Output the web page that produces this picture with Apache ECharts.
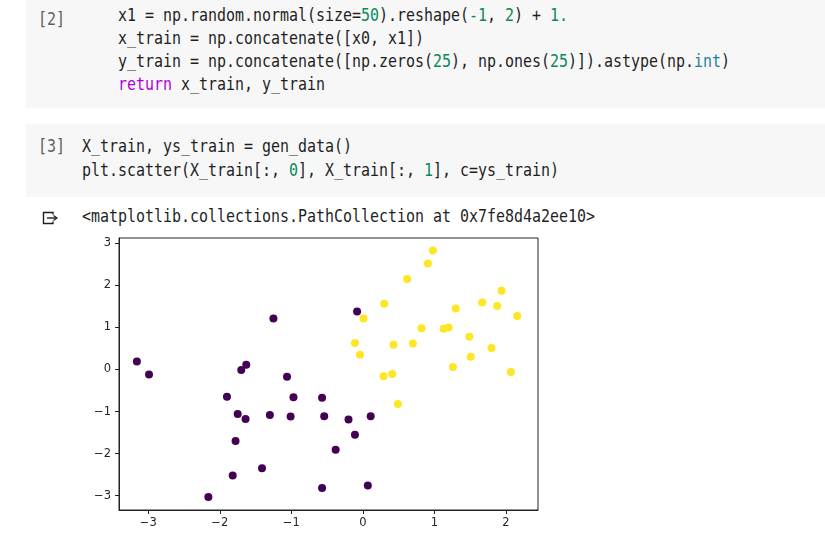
<!DOCTYPE html>
<html>
<head>
<meta charset="utf-8">
<script src="https://cdn.jsdelivr.net/npm/echarts@6/dist/echarts.min.js"></script>
<style>
  html, body { margin:0; padding:0; background:#fff; width:825px; height:552px; overflow:hidden; }
  .cell { position:absolute; left:26px; width:799px; background:#f7f7f7; }
  .txt { position:absolute; margin:0; white-space:pre; font-family:"DejaVu Sans Mono", monospace; font-size:17px; color:#1f1f1f; transform-origin:0 0; transform:scaleX(0.8794); }
  .prompt { color:#5f5f5f; }
  .n { color:#09885a; }
  .k { color:#af00db; }
  .b { color:#267f99; }
  #chart { position:absolute; left:0; top:200px; width:825px; height:352px; }
</style>
</head>
<body>
<div class="cell" style="top:0;height:108px"></div>
<div class="cell" style="top:124px;height:73px"></div>
<pre class="txt prompt" style="left:38px;top:8px;line-height:23px">[2]</pre>
<pre class="txt" style="left:82px;top:3.6px;line-height:23px">    x1 = np.random.normal(size=<span class="n">50</span>).reshape(<span class="n">-1</span>, <span class="n">2</span>) + <span class="n">1.</span>
    x_train = np.concatenate([x0, x1])
    y_train = np.concatenate([np.zeros(<span class="n">25</span>), np.ones(<span class="n">25</span>)]).astype(np.<span class="b">int</span>)
    <span class="k">return</span> x_train, y_train</pre>
<pre class="txt prompt" style="left:38px;top:134px;line-height:24px">[3]</pre>
<pre class="txt" style="left:82px;top:134px;line-height:24px">X_train, ys_train = gen_data()
plt.scatter(X_train[:, <span class="n">0</span>], X_train[:, <span class="n">1</span>], c=ys_train)</pre>
<svg style="position:absolute;left:0;top:0" width="70" height="240">
  <path d="M53 214.5 V212.5 H43.5 V223.5 H53 V221.5" fill="none" stroke="#1f1f1f" stroke-width="1.4"/>
  <path d="M47 218 H56" fill="none" stroke="#1f1f1f" stroke-width="1.4"/>
  <path d="M53.5 215.5 L57 218 L53.5 220.5" fill="none" stroke="#1f1f1f" stroke-width="1.2"/>
</svg>
<pre class="txt" style="left:82px;top:204.5px;line-height:23px">&lt;matplotlib.collections.PathCollection at 0x7fe8d4a2ee10&gt;</pre>
<div id="chart"></div>
<script>
// class 0 (purple) points
const purpleX = [-3.16, -2.99, -1.70, -1.63, -1.25, -1.06, -0.08, -1.90, -1.75, -1.64, -1.30, -0.97, -1.01, -1.78, -1.41, -1.82, -2.16, -0.57, -0.54, -0.20, 0.11, -0.11, -0.38, -0.57, 0.07];
const purpleY = [0.19, -0.12, -0.01, 0.11, 1.21, -0.17, 1.38, -0.65, -1.06, -1.18, -1.08, -0.66, -1.12, -1.70, -2.35, -2.52, -3.03, -0.67, -1.11, -1.19, -1.11, -1.55, -1.91, -2.82, -2.76];
// class 1 (yellow) points
const yellowX = [0.98, 0.91, 0.62, 0.30, 0.01, 1.30, 1.67, 1.88, 1.94, 2.16, 0.82, 1.13, 1.20, 1.49, -0.11, -0.04, 0.43, 0.70, 1.80, 1.51, 1.26, 2.07, 0.29, 0.41, 0.49];
const yellowY = [2.83, 2.52, 2.15, 1.56, 1.21, 1.45, 1.59, 1.51, 1.87, 1.27, 0.98, 0.97, 1.00, 0.78, 0.63, 0.35, 0.59, 0.62, 0.51, 0.30, 0.06, -0.06, -0.16, -0.11, -0.82];
const xTicks = [-3, -2, -1, 0, 1, 2];
const yTicks = [-3, -2, -1, 0, 1, 2, 3];

const pair = (xs, ys) => xs.map((x, i) => [x, ys[i]]);
const fmt = v => String(v).replace('-', '\u2212');

const chart = echarts.init(document.getElementById('chart'), null, { renderer: 'canvas' });
const axisCommon = {
  type: 'value',
  splitLine: { show: false },
  axisLine: { show: true, onZero: false, lineStyle: { color: '#222', width: 1 } },
  axisLabel: { fontFamily: 'DejaVu Sans', fontSize: 11.5, color: '#262626', formatter: fmt }
};
chart.setOption({
  animation: false,
  grid: { left: 119, top: 38, width: 419, height: 272, show: true, borderColor: '#222', borderWidth: 1, backgroundColor: '#fff' },
  xAxis: Object.assign({}, axisCommon, {
    min: -3.41, max: 2.45,
    axisTick: { show: true, length: 4, lineStyle: { color: '#222' }, customValues: xTicks },
    axisLabel: Object.assign({}, axisCommon.axisLabel, { margin: 7, customValues: xTicks })
  }),
  yAxis: Object.assign({}, axisCommon, {
    min: -3.34, max: 3.125,
    axisTick: { show: true, length: 4, lineStyle: { color: '#222' }, customValues: yTicks },
    axisLabel: Object.assign({}, axisCommon.axisLabel, { margin: 8, customValues: yTicks })
  }),
  series: [
    { type: 'scatter', data: pair(purpleX, purpleY), symbolSize: 8, itemStyle: { color: '#440154', opacity: 1 }, emphasis: { disabled: true } },
    { type: 'scatter', data: pair(yellowX, yellowY), symbolSize: 8, itemStyle: { color: '#fde725', opacity: 1 }, emphasis: { disabled: true } }
  ]
});
</script>
</body>
</html>
